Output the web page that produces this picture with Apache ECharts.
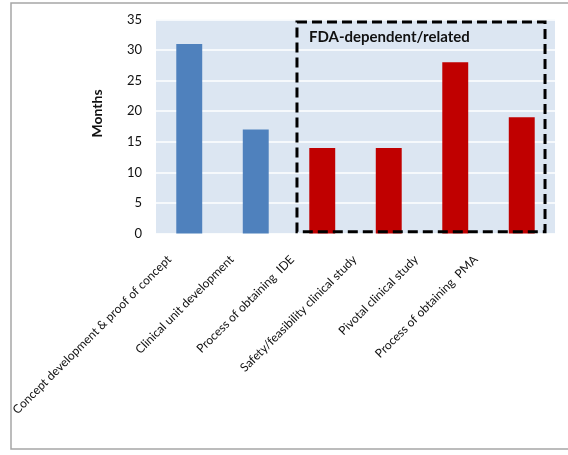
<!DOCTYPE html>
<html><head><meta charset="utf-8">
<script src="https://cdn.jsdelivr.net/npm/echarts@6/dist/echarts.min.js"></script>
<style>html,body{margin:0;padding:0;background:#fff}#c{width:568px;height:455px}</style>
</head><body><div id="c"></div>
<script>
const categories = ["Concept development & proof of concept","Clinical unit development","Process of obtaining  IDE","Safety/feasibility clinical study","Pivotal clinical study","Process of obtaining  PMA"];
const months = [31, 17, 14, 14, 28, 19];
const barColors = ["#4F81BD","#4F81BD","#C00000","#C00000","#C00000","#C00000"];
const yTicks = {min: 0, max: 35, interval: 5};
const boxLabel = "FDA-dependent/related";
// dashed box extent in axis units: x in category bands, y in months
const boxX = [2.12, 5.85], boxY = [0.3, 34.6];
const labelShift = [20, 24, 30, 34, 39, 46];

const FONT = "Lato";
const rich = {};
labelShift.forEach((d, i) => {
  const p = d / 1.414;
  rich['l' + i] = {fontFamily: FONT, fontSize: 12, color: '#111', padding: [0, p, 2 * p, 0]};
});

const chart = echarts.init(document.getElementById('c'));
chart.setOption({
  animation: false,
  grid: {left: 156, right: 13, top: 19.5, bottom: 221.5},
  xAxis: [{
    type: 'category', data: categories,
    axisLine: {show: false}, axisTick: {show: false},
    axisLabel: {rotate: 45, margin: 24, interval: 0,
      formatter: (v, i) => '{l' + i + '|' + v + '}', rich: rich}
  }, {
    type: 'value', min: 0, max: 6, show: false
  }],
  yAxis: {
    type: 'value', min: yTicks.min, max: yTicks.max, interval: yTicks.interval,
    name: 'Months', nameLocation: 'middle', nameGap: 52, nameRotate: 90,
    nameTextStyle: {fontFamily: FONT, fontWeight: 'bold', fontSize: 14, color: '#111', padding: [0, 0, 0, 26]},
    axisLine: {show: false}, axisTick: {show: false},
    axisLabel: {fontFamily: FONT, fontSize: 13, color: '#111', margin: 14},
    splitLine: {lineStyle: {color: '#fff', width: 1.5}},
    splitArea: {show: false}
  },
  series: [{
    type: 'bar', barWidth: '39%',
    data: months.map((v, i) => ({value: v, itemStyle: {color: barColors[i]}}))
  }]
});

function drawExtras() {
  const g = chart.getModel().getComponent('grid').coordinateSystem.getRect();
  const x0 = chart.convertToPixel({xAxisIndex: 1}, boxX[0]);
  const x1 = chart.convertToPixel({xAxisIndex: 1}, boxX[1]);
  const y0 = chart.convertToPixel({yAxisIndex: 0}, boxY[1]);
  const y1 = chart.convertToPixel({yAxisIndex: 0}, boxY[0]);
  chart.setOption({graphic: [
    {type: 'rect', z: -10, silent: true, shape: {x: g.x, y: g.y, width: g.width, height: g.height},
      style: {fill: '#DCE6F2'}},
    {type: 'rect', z: 100, silent: true, shape: {x: 11, y: 3, width: 600, height: 446},
      style: {fill: null, stroke: '#A6A6A6', lineWidth: 1.5}},
    {type: 'rect', z: 100, silent: true, shape: {x: x0, y: y0, width: x1 - x0, height: y1 - y0},
      style: {fill: null, stroke: '#000', lineWidth: 3, lineDash: [10, 5]}},
    {type: 'text', z: 101, silent: true, x: x0 + 12, y: y0 + 15,
      style: {text: boxLabel, fontFamily: FONT, fontWeight: 'bold', fontSize: 15, fill: '#111', verticalAlign: 'middle'}}
  ]});
}
drawExtras();
</script></body></html>
